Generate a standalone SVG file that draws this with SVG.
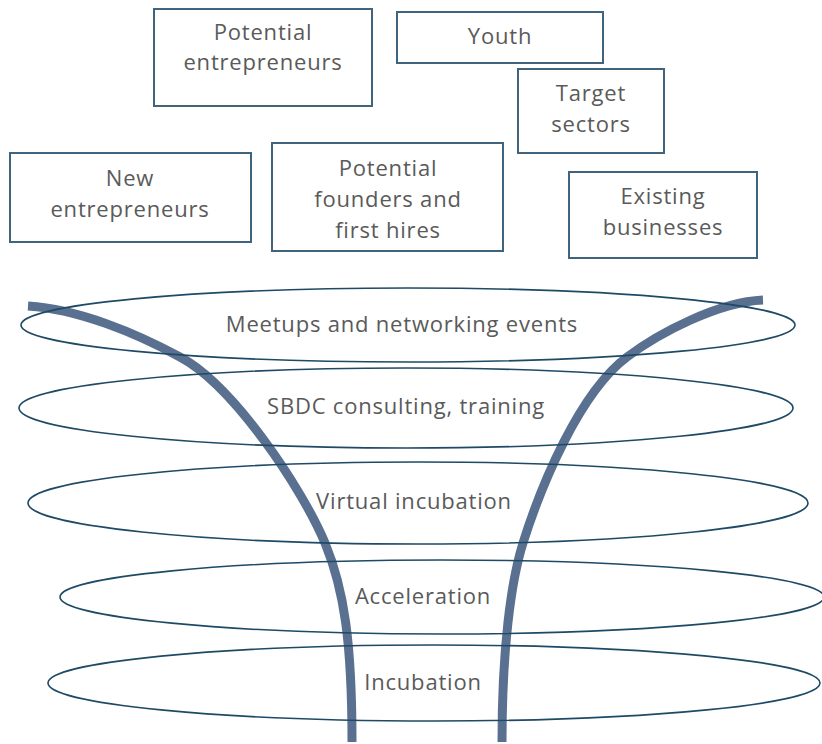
<svg xmlns="http://www.w3.org/2000/svg" width="822" height="744" viewBox="0 0 822 744">
  <style>
    .box rect { fill: #ffffff; stroke: #41647e; stroke-width: 2; }
    .lbl { font-family: "Open Sans", "Lato", "Liberation Sans", sans-serif; font-size: 22px; letter-spacing: 0.8px; fill: #5a5a5a; text-anchor: middle; }
    .ring { fill: none; stroke: #1f4a66; stroke-width: 1.6; }
    .wall { fill: none; stroke: #5a7090; stroke-width: 9; stroke-linecap: butt; }
  </style>
  <rect width="822" height="744" fill="#ffffff"/>

  <!-- audience boxes -->
  <g id="potential-entrepreneurs" class="box">
    <rect x="154" y="9" width="218" height="97"/>
    <text class="lbl" x="263" y="40">Potential</text>
    <text class="lbl" x="263" y="70">entrepreneurs</text>
  </g>
  <g id="youth" class="box">
    <rect x="397" y="12" width="206" height="51"/>
    <text class="lbl" x="500" y="44">Youth</text>
  </g>
  <g id="target-sectors" class="box">
    <rect x="518" y="69" width="146" height="84"/>
    <text class="lbl" x="591" y="101">Target</text>
    <text class="lbl" x="591" y="132">sectors</text>
  </g>
  <g id="new-entrepreneurs" class="box">
    <rect x="10" y="153" width="241" height="89"/>
    <text class="lbl" x="130" y="186">New</text>
    <text class="lbl" x="130" y="217">entrepreneurs</text>
  </g>
  <g id="potential-founders" class="box">
    <rect x="272" y="143" width="231" height="108"/>
    <text class="lbl" x="388" y="176">Potential</text>
    <text class="lbl" x="388" y="207">founders and</text>
    <text class="lbl" x="388" y="238">first hires</text>
  </g>
  <g id="existing-businesses" class="box">
    <rect x="569" y="172" width="188" height="86"/>
    <text class="lbl" x="663" y="204">Existing</text>
    <text class="lbl" x="663" y="235">businesses</text>
  </g>

  <!-- funnel walls -->
  <g id="connectors">
    <path class="wall" d="M28,306 C78,309 136,333 180,357 C233,385 302,488 325,543 C344,589 352,642 352,742"/>
    <path class="wall" d="M763,300 C718,302 659,333 627,357 C579,393 541,486 523,543 C511,581 502,650 502,742"/>
  </g>

  <!-- program rings -->
  <g id="meetups">
    <ellipse class="ring" cx="408" cy="325" rx="387" ry="37"/>
    <text class="lbl" x="402" y="332">Meetups and networking events</text>
  </g>
  <g id="sbdc">
    <ellipse class="ring" cx="406" cy="408" rx="387" ry="40"/>
    <text class="lbl" x="406" y="414">SBDC consulting, training</text>
  </g>
  <g id="virtual-incubation">
    <ellipse class="ring" cx="418" cy="503" rx="390" ry="41"/>
    <text class="lbl" x="414" y="509">Virtual incubation</text>
  </g>
  <g id="acceleration">
    <ellipse class="ring" cx="442" cy="597" rx="382" ry="37"/>
    <text class="lbl" x="423" y="604">Acceleration</text>
  </g>
  <g id="incubation">
    <ellipse class="ring" cx="434" cy="683" rx="386" ry="38"/>
    <text class="lbl" x="423" y="690">Incubation</text>
  </g>
</svg>
